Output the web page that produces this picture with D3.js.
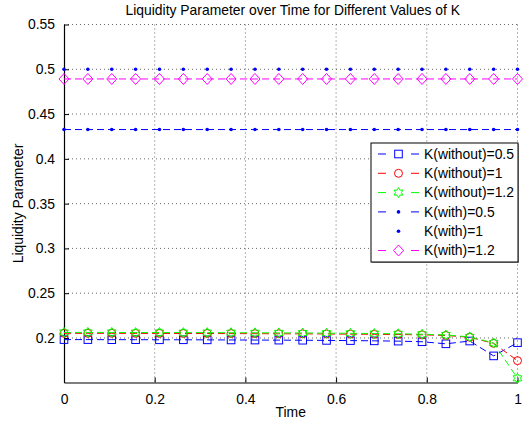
<!DOCTYPE html>
<html>
<head>
<meta charset="utf-8">
<script src="https://cdnjs.cloudflare.com/ajax/libs/d3/7.8.5/d3.min.js"></script>
<style>
  body { margin: 0; background: #fff; }
  svg text { font-family: "Liberation Sans", Arial, Helvetica, sans-serif; font-size: 13.9px; fill: #000; }
</style>
</head>
<body>
<div id="vis"></div>
<script>
var time = [0, 0.0526, 0.1053, 0.1579, 0.2105, 0.2632, 0.3158, 0.3684, 0.4211, 0.4737,
    0.5263, 0.5789, 0.6316, 0.6842, 0.7368, 0.7895, 0.8421, 0.8947, 0.9474, 1];

var without05 = [0.1982, 0.1982, 0.1981, 0.1981, 0.1980, 0.1980, 0.1979, 0.1978, 0.1977, 0.1976,
    0.1975, 0.1973, 0.1971, 0.1968, 0.1965, 0.1958, 0.1935, 0.1966, 0.1800, 0.1948];
var without1 = [0.2052, 0.2052, 0.2052, 0.2051, 0.2051, 0.2050, 0.2050, 0.2049, 0.2048, 0.2047,
    0.2046, 0.2045, 0.2043, 0.2041, 0.2039, 0.2035, 0.2028, 0.2008, 0.1940, 0.1747];
var without12 = [0.2062, 0.2062, 0.2062, 0.2061, 0.2061, 0.2060, 0.2060, 0.2059, 0.2058, 0.2057,
    0.2056, 0.2054, 0.2052, 0.2050, 0.2047, 0.2042, 0.2034, 0.2012, 0.1945, 0.1550];
var with05 = [0.4327, 0.4327, 0.4327, 0.4327, 0.4327, 0.4327, 0.4327, 0.4327, 0.4327, 0.4327,
    0.4327, 0.4327, 0.4327, 0.4327, 0.4327, 0.4327, 0.4327, 0.4327, 0.4327, 0.4327];
var with1 = [0.5, 0.5, 0.5, 0.5, 0.5, 0.5, 0.5, 0.5, 0.5, 0.5,
    0.5, 0.5, 0.5, 0.5, 0.5, 0.5, 0.5, 0.5, 0.5, 0.5];
var with12 = [0.4892, 0.4892, 0.4892, 0.4892, 0.4892, 0.4892, 0.4892, 0.4892, 0.4892, 0.4892,
    0.4892, 0.4892, 0.4892, 0.4892, 0.4892, 0.4892, 0.4892, 0.4892, 0.4892, 0.4892];

var labels = ["K(without)=0.5", "K(without)=1", "K(without)=1.2", "K(with)=0.5", "K(with)=1", "K(with)=1.2"];
var xTicks = [0, 0.2, 0.4, 0.6, 0.8, 1];
var yTicks = [0.2, 0.25, 0.3, 0.35, 0.4, 0.45, 0.5, 0.55];

function drawChart() {
    var width = 524;
    var height = 425;
    var m = {left: 64, right: 517.5, top: 24.5, bottom: 382.5};

    var series = [
        {values: without05, color: "#0000ff", marker: "square", dashed: true},
        {values: without1, color: "#ff0000", marker: "circle", dashed: true},
        {values: without12, color: "#00ff00", marker: "hexagram", dashed: true},
        {values: with05, color: "#0000ff", marker: "point", dashed: true},
        {values: with1, color: "#0000ff", marker: "point", dashed: false},
        {values: with12, color: "#ff00ff", marker: "diamond", dashed: true}
    ];

    var svg = d3.select("#vis")
        .append("svg")
        .attr("width", width)
        .attr("height", height);

    var x = d3.scaleLinear().domain([0, 1]).range([m.left, m.right]);
    var y = d3.scaleLinear().domain([0.1503, 0.55]).range([m.bottom, m.top]);

    // dotted grid
    svg.append("g").selectAll("line")
        .data(xTicks.slice(1))
        .enter().append("line")
        .attr("x1", d => x(d)).attr("x2", d => x(d))
        .attr("y1", m.top).attr("y2", m.bottom)
        .attr("stroke", "#444").attr("stroke-width", 0.8)
        .attr("stroke-dasharray", "1,3");

    svg.append("g").selectAll("line")
        .data(yTicks)
        .enter().append("line")
        .attr("x1", m.left).attr("x2", m.right)
        .attr("y1", d => y(d)).attr("y2", d => y(d))
        .attr("stroke", "#444").attr("stroke-width", 0.8)
        .attr("stroke-dasharray", "1,3");

    // axes, ticks point inward
    var fmt = d => String(+d.toFixed(2));
    var xAxis = d3.axisBottom(x).tickValues(xTicks).tickFormat(fmt)
        .tickSizeInner(-5).tickSizeOuter(0).tickPadding(12);
    var yAxis = d3.axisLeft(y).tickValues(yTicks).tickFormat(fmt)
        .tickSizeInner(-5).tickSizeOuter(0).tickPadding(9);

    var gx = svg.append("g").attr("transform", "translate(0," + m.bottom + ")").call(xAxis);
    var gy = svg.append("g").attr("transform", "translate(" + m.left + ",0)").call(yAxis);
    [gx, gy].forEach(function (g) {
        g.attr("font-size", null).attr("font-family", null);
        g.select(".domain").attr("stroke", "#000").attr("stroke-width", 1.2);
        g.selectAll(".tick line").attr("stroke", "#000");
    });

    function hexagram(r) {
        var pts = [];
        for (var i = 0; i < 12; i++) {
            var a = -Math.PI / 2 + i * Math.PI / 6;
            var rr = i % 2 === 0 ? r : r / Math.sqrt(3);
            pts.push([rr * Math.cos(a), rr * Math.sin(a)]);
        }
        return "M" + pts.map(p => p.join(",")).join("L") + "Z";
    }

    function drawMarker(g, type, color) {
        if (type === "square") {
            g.append("rect").attr("x", -3.8).attr("y", -3.8).attr("width", 7.6).attr("height", 7.6)
                .attr("fill", "none").attr("stroke", color).attr("stroke-width", 1);
        } else if (type === "circle") {
            g.append("circle").attr("r", 4).attr("fill", "none").attr("stroke", color).attr("stroke-width", 1);
        } else if (type === "hexagram") {
            g.append("path").attr("d", hexagram(5)).attr("fill", "none").attr("stroke", color).attr("stroke-width", 1);
        } else if (type === "diamond") {
            g.append("path").attr("d", "M0,-5.5L5,0L0,5.5L-5,0Z").attr("fill", "none").attr("stroke", color).attr("stroke-width", 1);
        } else if (type === "point") {
            g.append("circle").attr("r", 1.8).attr("fill", color);
        }
    }

    var line = d3.line()
        .x((d, i) => x(time[i]))
        .y(d => y(d));

    series.forEach(function (s) {
        var g = svg.append("g");
        if (s.dashed) {
            g.append("path")
                .attr("d", line(s.values))
                .attr("fill", "none")
                .attr("stroke", s.color)
                .attr("stroke-width", 1)
                .attr("stroke-dasharray", "7,4");
        }
        s.values.forEach(function (v, i) {
            var mk = g.append("g").attr("transform", "translate(" + x(time[i]) + "," + y(v) + ")");
            drawMarker(mk, s.marker, s.color);
        });
    });

    // title and axis labels
    svg.append("text")
        .attr("x", (m.left + m.right) / 2 + 2).attr("y", 14.5)
        .attr("text-anchor", "middle")
        .text("Liquidity Parameter over Time for Different Values of K");

    svg.append("text")
        .attr("x", (m.left + m.right) / 2).attr("y", 416.5)
        .attr("text-anchor", "middle")
        .text("Time");

    svg.append("text")
        .attr("transform", "translate(23," + (m.top + m.bottom) / 2 + ") rotate(-90)")
        .attr("text-anchor", "middle")
        .text("Liquidity Parameter");

    // legend
    var lg = {x: 371, y: 143, w: 147, h: 119, row: 19.3};
    svg.append("rect")
        .attr("x", lg.x + 1).attr("y", lg.y + 1).attr("width", lg.w).attr("height", lg.h)
        .attr("fill", "#999");
    svg.append("rect")
        .attr("x", lg.x).attr("y", lg.y).attr("width", lg.w).attr("height", lg.h)
        .attr("fill", "#fff").attr("stroke", "#000").attr("stroke-width", 1);

    var items = svg.append("g").selectAll("g")
        .data(series)
        .enter().append("g")
        .attr("transform", (d, i) => "translate(0," + (lg.y + 11 + i * lg.row) + ")");

    items.each(function (d) {
        var g = d3.select(this);
        if (d.dashed) {
            g.append("line").attr("x1", 378).attr("x2", 419).attr("y1", 0).attr("y2", 0)
                .attr("stroke", d.color).attr("stroke-width", 1).attr("stroke-dasharray", "8,25");
        }
        drawMarker(g.append("g").attr("transform", "translate(398.5,0)"), d.marker, d.color);
    });

    items.append("text")
        .attr("x", 424).attr("y", 4.8)
        .text((d, i) => labels[i]);
}

drawChart();
</script>
</body>
</html>
